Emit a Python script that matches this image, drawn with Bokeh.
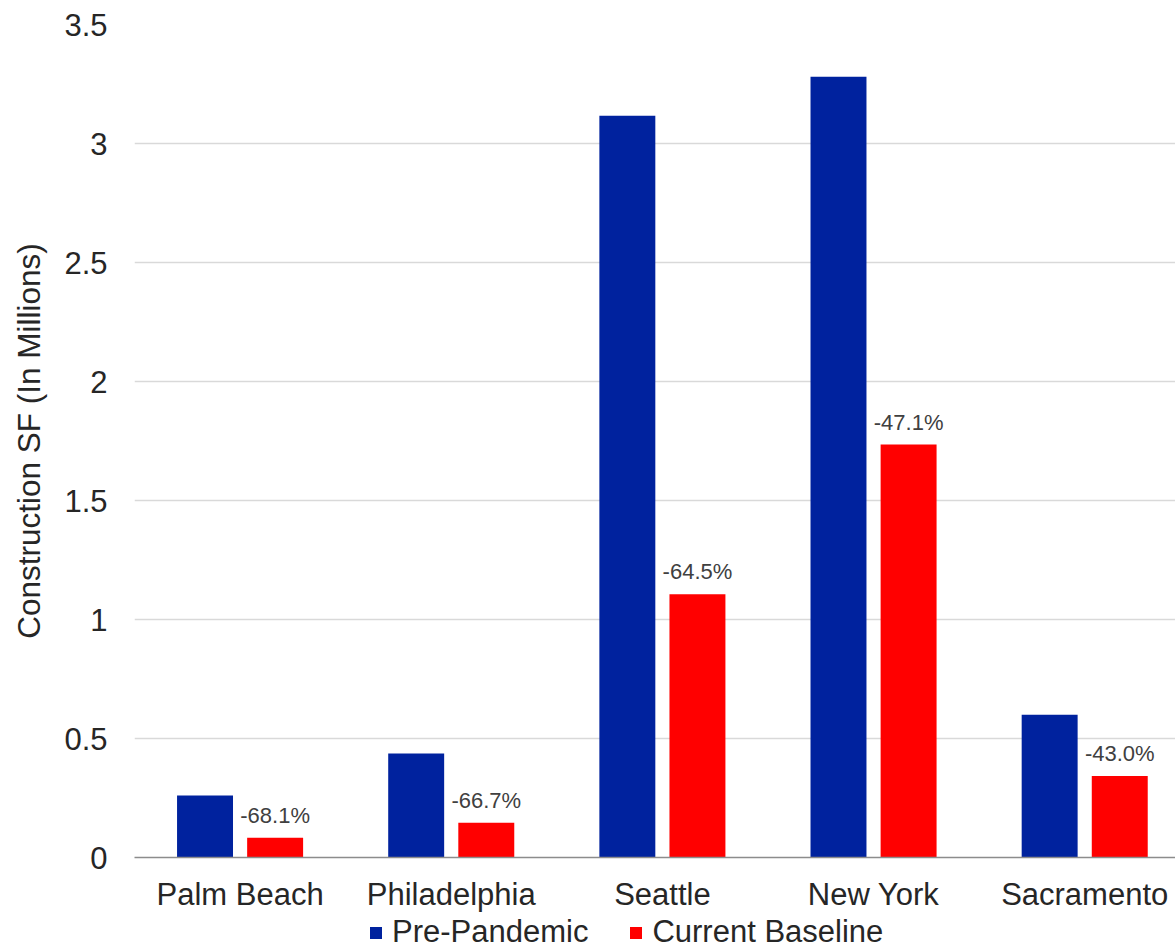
from bokeh.plotting import figure
from bokeh.layouts import column
from bokeh.models import (ColumnDataSource, FixedTicker, Legend, LegendItem,
                          Range1d, LabelSet)
from bokeh.core.properties import value
from bokeh.transform import dodge
from bokeh.embed import file_html
from bokeh.resources import INLINE

# Construction square footage by market (millions of SF)
markets = ["Palm Beach", "Philadelphia", "Seattle", "New York", "Sacramento"]
pre_pandemic = [0.26, 0.437, 3.117, 3.28, 0.60]
current_baseline = [0.083, 0.146, 1.106, 1.735, 0.342]
pct_change = [-68.1, -66.7, -64.5, -47.1, -43.0]
y_ticks = [0, 0.5, 1, 1.5, 2, 2.5, 3, 3.5]
series_names = ["Pre-Pandemic", "Current Baseline"]

BLUE = "#00229E"
RED = "#FF0000"
FONT = "Liberation Sans"
TEXT = "#262626"

xs = list(range(len(markets)))
source = ColumnDataSource(dict(
    x=xs,
    pre=pre_pandemic,
    cur=current_baseline,
    lab=[f"{v:.1f}%" for v in pct_change],
))

p = figure(width=1175, height=914, output_backend="svg", toolbar_location=None,
           x_range=Range1d(-0.5, 4.43), y_range=Range1d(0, 3.5),
           min_border_left=134, min_border_right=0, min_border_top=24,
           min_border_bottom=57)
p.outline_line_color = None
p.background_fill_color = "white"
p.border_fill_color = "white"

bw = 0.265
p.vbar(x=dodge("x", -0.166), top="pre", width=bw, source=source,
       fill_color=BLUE, line_color=None)
p.vbar(x=dodge("x", 0.166), top="cur", width=bw, source=source,
       fill_color=RED, line_color=None)

labels = LabelSet(x=dodge("x", 0.166), y="cur", text="lab", source=source,
                  text_align="center", text_baseline="alphabetic", y_offset=15,
                  text_font=value(FONT), text_font_size="22px",
                  text_color="#404040")
p.add_layout(labels)

# axes
p.xaxis.ticker = FixedTicker(ticks=xs)
p.xaxis.major_label_overrides = {i: m for i, m in enumerate(markets)}
p.xaxis.major_tick_line_color = None
p.xaxis.minor_tick_line_color = None
p.xaxis.major_tick_out = 0
p.xaxis.major_label_standoff = 19
p.xaxis.axis_line_color = "#8C8C8C"
p.xaxis.axis_line_width = 1.5
p.xaxis.major_label_text_font = FONT
p.xaxis.major_label_text_font_size = "31px"
p.xaxis.major_label_text_color = TEXT

p.yaxis.ticker = FixedTicker(ticks=y_ticks)
p.yaxis.major_label_overrides = {t: f"{t:g}" for t in y_ticks}
p.yaxis.axis_line_color = None
p.yaxis.major_tick_line_color = None
p.yaxis.minor_tick_line_color = None
p.yaxis.major_tick_out = 0
p.yaxis.major_label_standoff = 27
p.yaxis.major_label_text_font = FONT
p.yaxis.major_label_text_font_size = "31px"
p.yaxis.major_label_text_color = TEXT
p.yaxis.axis_label = "Construction SF (In Millions)"
p.yaxis.axis_label_standoff = 14
p.yaxis.axis_label_text_font = FONT
p.yaxis.axis_label_text_font_size = "31.5px"
p.yaxis.axis_label_text_font_style = "normal"
p.yaxis.axis_label_text_color = TEXT

p.xgrid.grid_line_color = None
p.ygrid.grid_line_color = "#D9D9D9"
p.ygrid.grid_line_width = 1.5

# legend strip under the chart; its frame lines up with the chart frame
lg = figure(width=1175, height=36, output_backend="svg", toolbar_location=None,
            x_range=Range1d(0, 1), y_range=Range1d(0, 1),
            x_axis_type=None, y_axis_type=None, min_border=0,
            min_border_left=134)
lg.outline_line_color = None
lg.xgrid.visible = False
lg.ygrid.visible = False
# swatch-only renderers (NaN height, so no bar is drawn)
nan = float("nan")
sw_pre = lg.vbar(x=[0], top=[nan], width=1, fill_color=BLUE, line_color=None)
sw_cur = lg.vbar(x=[0], top=[nan], width=1, fill_color=RED, line_color=None)
legend = Legend(items=[LegendItem(label=series_names[0], renderers=[sw_pre]),
                       LegendItem(label=series_names[1], renderers=[sw_cur])],
                orientation="horizontal", location=(234, 0),
                label_text_font=FONT, label_text_font_size="31px",
                label_text_color=TEXT, glyph_width=15, glyph_height=15,
                label_standoff=9, spacing=40, padding=0, margin=0,
                border_line_color=None, background_fill_alpha=0)
lg.add_layout(legend, "center")

layout = column(p, lg, spacing=0)
open("out.html", "w").write(file_html(layout, INLINE))
